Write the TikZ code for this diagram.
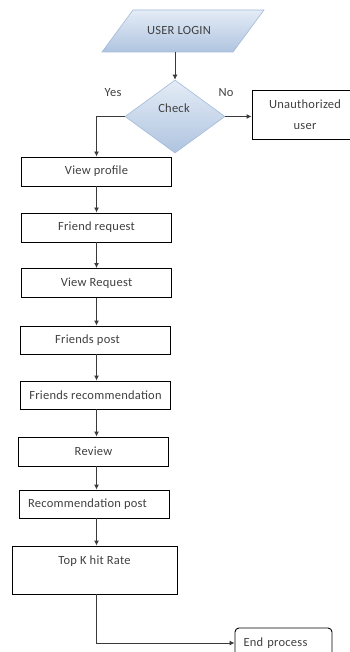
\documentclass[tikz,border=0pt]{standalone}
\usepackage{fontspec}
\setmainfont{Carlito}[LetterSpace=2]
\usetikzlibrary{shapes.geometric,arrows.meta}
\definecolor{txt}{HTML}{404040}
\definecolor{lnc}{HTML}{3A3A3A}
\definecolor{blueA}{HTML}{E4ECF6}
\definecolor{blueB}{HTML}{AFC4E0}
\definecolor{blueE}{HTML}{A3BAD9}
\tikzset{
  stepbox/.style={draw=black, line width=0.9pt, fill=white, rectangle, minimum width=150pt, minimum height=29pt, inner sep=0pt, text=txt, font=\fontsize{12.5}{14}\selectfont},
  lbl/.style={text=txt, font=\fontsize{12.5}{14}\selectfont, inner sep=0pt},
  arr/.style={draw=lnc, line width=0.9pt, -{Latex[length=5pt,width=5pt]}},
}
\begin{document}
\begin{tikzpicture}[x=1pt,y=-1pt]
\useasboundingbox (0,0) rectangle (350,652);
% parallelogram
\shade[top color=blueA, bottom color=blueB, draw=blueE, line width=0.6pt]
  (133,10) -- (264,10) -- (233,52) -- (102,52) -- cycle;
\node[lbl] (login) at (179,30) {USER LOGIN};
\coordinate (loginbot) at (175,52);
% diamond
\node[diamond, shape aspect=1.37, minimum width=100pt, minimum height=73pt, inner sep=0pt,
      top color=blueA, bottom color=blueB, draw=blueE, line width=0.6pt] (check) at (175,116.5) {};
\node[lbl] (checklbl) at (174,108) {Check};
\node[lbl] (yes) at (113,93) {Yes};
\node[lbl] (no) at (226,93) {No};
% unauthorized
\node[draw=black, line width=0.9pt, minimum width=106pt, minimum height=49pt, inner sep=0pt,
      align=center, text=txt, font=\fontsize{12.5}{21}\selectfont] (unauth) at (305,114.5) {Unauthorized\\user};
% steps
\node[stepbox] (vp) at (96.5,171.5) {View profile};
\node[stepbox] (fr) at (96.5,227.5) {Friend request};
\node[stepbox] (vr) at (96.5,283) {View Request};
\node[stepbox, minimum height=28pt] (fp) at (95.5,340) {\hspace*{-16pt}Friends post};
\node[stepbox, minimum height=28pt] (frec) at (95.5,395) {Friends recommendation};
\node[stepbox] (rev) at (93.5,451.5) {Review};
\node[stepbox, minimum height=28pt] (rp) at (94.5,504) {\hspace*{-14pt}Recommendation post};
\node[stepbox, minimum width=165pt, minimum height=48pt, text depth=20pt, text height=8pt] (topk) at (94.5,570) {Top K hit Rate};
\node[draw=black, line width=0.9pt, rounded corners=4pt, minimum width=97pt, minimum height=30pt,
      text width=80pt, align=left, inner xsep=8pt, inner ysep=0pt, text=txt, font=\fontsize{12.5}{14}\selectfont] (endp) at (283.5,643) {End process};
% connectors
\draw[arr] (loginbot) -- (check.north);
\draw[arr] (check.east) -- (unauth.west |- check.east);
\draw[arr] (check.west) -| (vp.north);
\draw[arr] (vp) -- (fr);
\draw[arr] (fr.south) -- (fr.south |- vr.north);
\draw[arr] (vr.south) -- (vr.south |- fp.north);
\draw[arr] (fp.south -| vr.south) -- (vr.south |- frec.north);
\draw[arr] (frec.south -| vr.south) -- (vr.south |- rev.north);
\draw[arr] (rev.south -| vr.south) -- (vr.south |- rp.north);
\draw[arr] (rp.south -| vr.south) -- (vr.south |- topk.north);
\draw[arr] (topk.south -| vr.south) |- (endp.west);
\end{tikzpicture}
\end{document}
